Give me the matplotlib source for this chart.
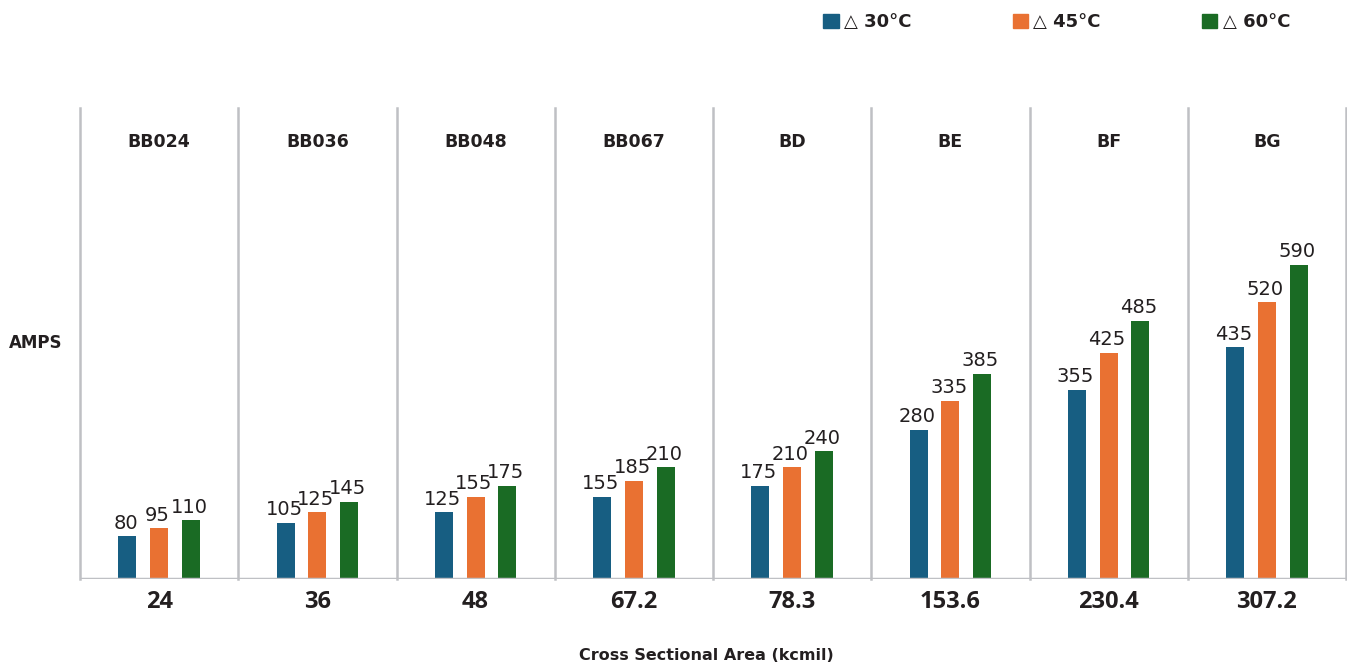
import matplotlib
matplotlib.use("Agg")
import matplotlib.pyplot as plt
from matplotlib.patches import Patch
import numpy as np

# data
models = ["BB024", "BB036", "BB048", "BB067", "BD", "BE", "BF", "BG"]
areas = ["24", "36", "48", "67.2", "78.3", "153.6", "230.4", "307.2"]
amps_30 = [80, 105, 125, 155, 175, 280, 355, 435]
amps_45 = [95, 125, 155, 185, 210, 335, 425, 520]
amps_60 = [110, 145, 175, 210, 240, 385, 485, 590]
series_labels = ["△ 30°C", "△ 45°C", "△ 60°C"]
colors = ["#175e82", "#e97132", "#1a6b24"]

plt.rcParams["font.family"] = ["DejaVu Sans"]
grid_col = "#bfc0c4"
text_col = "#231f20"

fig = plt.figure(figsize=(13.47, 6.66), dpi=100)
ax = fig.add_axes([80 / 1347, 87 / 666, 1266 / 1347, 471 / 666])

x = np.arange(len(models))
w = 0.114
off = 0.2
for vals, col, dx in zip([amps_30, amps_45, amps_60], colors, [-off, 0, off]):
    bars = ax.bar(x + dx, vals, width=w, color=col, zorder=3)
    for b, v in zip(bars, vals):
        ax.text(b.get_x() + b.get_width() / 2 - 0.01, v + 7, str(v), ha="center", va="bottom",
                fontsize=14, color=text_col)

ax.set_xlim(-0.5, len(models) - 0.5)
ax.set_ylim(0, 885)

# panel separators
for i in range(len(models) + 1):
    ax.axvline(i - 0.5, color=grid_col, lw=1.8, zorder=1, clip_on=False)
for s in ax.spines.values():
    s.set_visible(False)
ax.axhline(0, color=grid_col, lw=2.5, zorder=4)

for i, m in enumerate(models):
    ax.text(i, 0.927 * 885, m, ha="center", va="center", fontsize=12.5, fontweight="bold",
            color=text_col)

ax.set_yticks([])
ax.set_xticks(x)
ax.set_xticklabels(areas, fontsize=17, fontweight="bold", color=text_col,
                   family=["Open Sans", "DejaVu Sans"])
ax.tick_params(axis="x", length=0, pad=8)

fig.text(579 / 1347, 1 - 655 / 666, "Cross Sectional Area (kcmil)", ha="left", va="center",
         fontsize=11.5, fontweight="bold", color=text_col)
fig.text(9 / 1347, 1 - 343 / 666, "AMPS", ha="left", va="center", fontsize=12,
         fontweight="bold", color=text_col)

handles = [Patch(color=c) for c in colors]
fig.legend(handles, series_labels, loc="center left", bbox_to_anchor=(807 / 1347, 1 - 22 / 666),
           ncol=3, frameon=False, prop={"weight": "bold", "size": 13},
           handlelength=0.85, handleheight=0.85, handletextpad=0.3, columnspacing=5.6,
           labelcolor=text_col)

fig.savefig("out.png", dpi=100)
